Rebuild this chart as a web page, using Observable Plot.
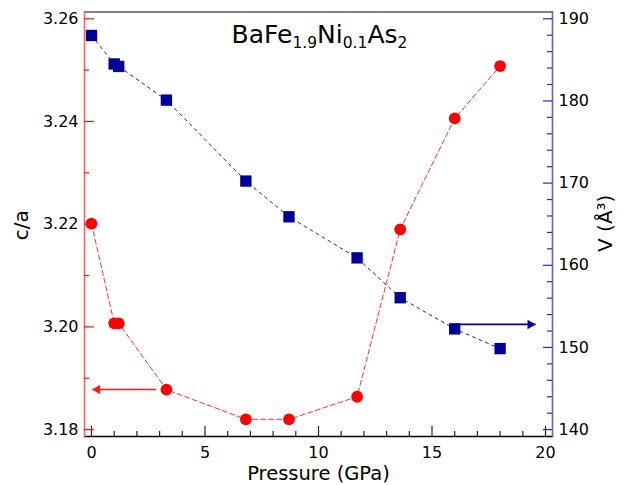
<!DOCTYPE html>
<html><head><meta charset="utf-8">
<script src="https://cdn.jsdelivr.net/npm/d3@7"></script>
<script src="https://cdn.jsdelivr.net/npm/@observablehq/plot@0.6"></script>
<style>body{margin:0;background:#fff} #chart{width:626px;height:485px}</style>
</head><body><div id="chart"></div>
<script>
// ---- data ----
const pressure = [0, 1.0, 1.2, 3.3, 6.8, 8.7, 11.7, 13.6, 16.0, 18.0];
const ratioCA  = [3.2201, 3.2007, 3.2007, 3.1878, 3.1820, 3.1820, 3.1864, 3.2190, 3.2406, 3.2508];
const volume   = [187.97, 184.5, 184.2, 180.1, 170.25, 165.9, 160.9, 156.05, 152.26, 149.86];

const xMajor  = [0, 5, 10, 15, 20];
const xMinor  = [1, 2, 3, 4, 6, 7, 8, 9, 11, 12, 13, 14, 16, 17, 18, 19];
const caMajor = [3.18, 3.20, 3.22, 3.24, 3.26];
const caMinor = [3.19, 3.21, 3.23, 3.25];
const vMajor  = [140, 150, 160, 170, 180, 190];
const vMinor  = [142, 144, 146, 148, 152, 154, 156, 158, 162, 164, 166, 168, 172, 174, 176, 178, 182, 184, 186, 188];

const xDomain  = [-0.308, 20.308];
const caDomain = [3.17866, 3.26132];
const vAnchor  = [140, 190];     // right axis values aligned with...
const caAnchor = [3.18, 3.26];   // ...these left axis values

const arrowFrom  = [2.85, 16.0];
const arrowTo    = [0.03, 19.56];
const arrowLevel = [3.1878, 152.8]; // first in c/a, second in V
const arrowAxis  = ["ca", "v"];

const titleParts = [["BaFe", false], ["1.9", true], ["Ni", false], ["0.1", true], ["As", false], ["2", true]];

// ---- layout ----
const W = 626, H = 485, ML = 84, MR = 74, MT = 11.5, MB = 49;
const FW = W - ML - MR, FH = H - MT - MB;
const pxX = (xDomain[1] - xDomain[0]) / FW;    // data units per pixel
const pxY = (caDomain[1] - caDomain[0]) / FH;

// ---- helpers ----
const vToCA = v => caAnchor[0] + (v - vAnchor[0]) * (caAnchor[1] - caAnchor[0]) / (vAnchor[1] - vAnchor[0]);

const rows = pressure.map((p, i) => ({p, ca: ratioCA[i], vc: vToCA(volume[i])}));
const arrows = arrowFrom.map((x1, i) => ({
  x1, x2: arrowTo[i],
  y: arrowAxis[i] === "ca" ? arrowLevel[i] : vToCA(arrowLevel[i]),
  left: arrowTo[i] < x1
}));

const RED = "#ff0000", NAVY = "#000099";
const bottomTicks = (data, len) => Plot.ruleX(data.slice(), {x: d => d, y1: () => caDomain[0], y2: () => caDomain[0] + len * pxY, stroke: "#222", strokeWidth: 1.2});
const leftTicks   = (data, len) => Plot.ruleY(data.slice(), {y: d => d, x1: () => xDomain[0], x2: () => xDomain[0] + len * pxX, stroke: "#ff1010", strokeWidth: 1.2});
const rightTicks  = (data, len) => Plot.ruleY(data.map(vToCA), {y: d => d, x1: () => xDomain[1] - len * pxX, x2: () => xDomain[1], stroke: "#2a2ab0", strokeWidth: 1.2});

const plot = Plot.plot({
  width: W, height: H,
  marginLeft: ML, marginRight: MR, marginTop: MT, marginBottom: MB,
  x: {domain: xDomain, axis: null},
  y: {domain: caDomain, axis: null},
  style: {fontFamily: "DejaVu Sans", fontSize: "16px", color: "black", background: "white", overflow: "visible"},
  marks: [
    Plot.line(rows, {x: "p", y: "ca", stroke: "#ff3030", strokeWidth: 1, strokeDasharray: "5,3"}),
    Plot.line(rows, {x: "p", y: "vc", stroke: "#2020b0", strokeWidth: 1, strokeDasharray: "3,4"}),
    Plot.dot(rows, {x: "p", y: "ca", r: 5.9, fill: RED}),
    Plot.dot(rows, {x: "p", y: "vc", symbol: "square", r: 6.4, fill: NAVY}),
    Plot.link(arrows.filter(d => d.left), {x1: "x1", x2: "x2", y1: "y", y2: "y", stroke: "#ff1a1a", strokeWidth: 1.6}),
    Plot.link(arrows.filter(d => !d.left), {x1: "x1", x2: "x2", y1: "y", y2: "y", stroke: NAVY, strokeWidth: 1.8}),
    Plot.dot(arrows.filter(d => d.left), {x: "x2", y: "y", symbol: "triangle", r: 3.5, rotate: -90, dx: 5.3, fill: "#ff1a1a"}),
    Plot.dot(arrows.filter(d => !d.left), {x: "x2", y: "y", symbol: "triangle", r: 3.5, rotate: 90, dx: -5.3, fill: NAVY}),

    // frame lines
    Plot.frame({anchor: "top", stroke: "black", strokeWidth: 1}),
    Plot.frame({anchor: "bottom", stroke: "black", strokeWidth: 1.4}),
    Plot.frame({anchor: "left", stroke: "#ff6060", strokeWidth: 1.6}),
    Plot.frame({anchor: "right", stroke: "#6060d0", strokeWidth: 1.6}),

    // tick labels (plain text marks)
    Plot.text(xMajor, {x: d => d, frameAnchor: "bottom", lineAnchor: "top", textAnchor: "middle", dy: 10, text: d => String(d), fontSize: 16, fill: "black"}),
    Plot.text(caMajor, {y: d => d, frameAnchor: "left", lineAnchor: "middle", textAnchor: "end", dx: -6, text: d => d3.format(".2f")(d), fontSize: 16, fill: "black"}),
    Plot.text(vMajor, {y: d => vToCA(d), frameAnchor: "right", lineAnchor: "middle", textAnchor: "start", dx: 6, text: d => String(d), fontSize: 16, fill: "black"}),

    // axis titles
    Plot.text(["Pressure (GPa)"], {frameAnchor: "bottom", textAnchor: "middle", lineAnchor: "bottom", dy: 43, fontSize: 19.5, fill: "black"}),
    Plot.text(["c/a"], {frameAnchor: "left", textAnchor: "middle", rotate: -90, dx: -63, dy: 1, fontSize: 20, fill: "black"}),
    Plot.text(["V (Å³)"], {frameAnchor: "right", textAnchor: "middle", rotate: -90, dx: 53, dy: -1, fontSize: 20, fill: "black"}),

    // inward ticks (drawn last)
    bottomTicks(xMajor, 10),
    bottomTicks(xMinor, 5),
    leftTicks(caMajor, 10),
    leftTicks(caMinor, 5),
    rightTicks(vMajor, 9),
    rightTicks(vMinor, 5)
  ]
});

// title with subscripts
const svg = d3.select(plot);
const t = svg.append("text")
  .attr("x", (ML + W - MR) / 2 + 1.5).attr("y", 43)
  .attr("text-anchor", "middle")
  .attr("font-family", "DejaVu Sans").attr("font-size", 25).attr("fill", "black");
let shifted = false;
for (const [s, sub] of titleParts) {
  const ts = t.append("tspan").text(s);
  if (sub) { ts.attr("font-size", 15.5); if (!shifted) { ts.attr("dy", 5); shifted = true; } }
  else if (shifted) { ts.attr("dy", -5); shifted = false; }
}

document.getElementById("chart").appendChild(plot);
</script>
</body></html>
